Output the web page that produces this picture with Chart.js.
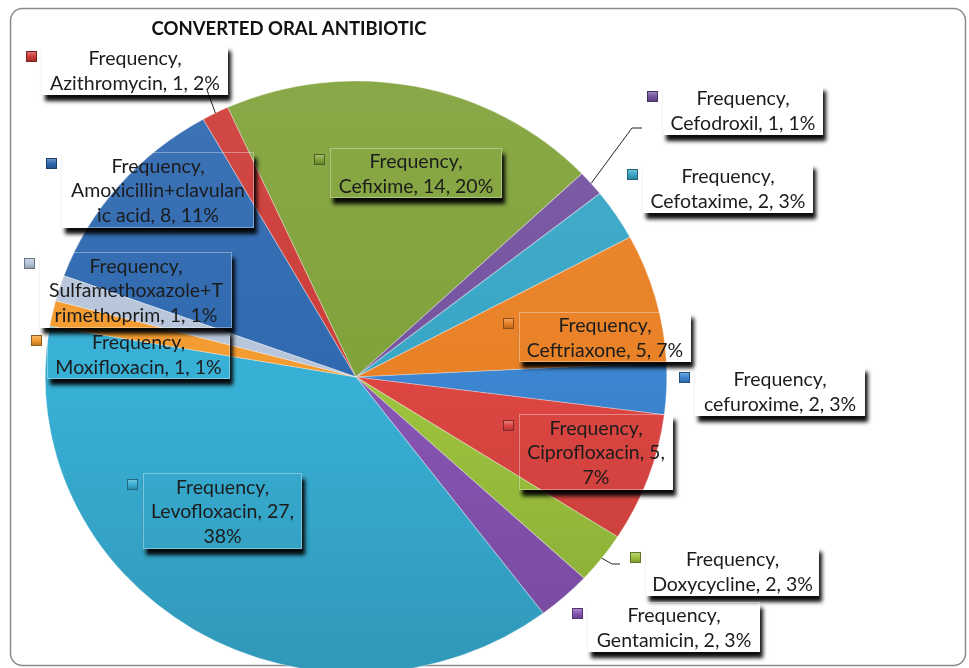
<!DOCTYPE html>
<html>
<head>
<meta charset="utf-8">
<script src="https://cdn.jsdelivr.net/npm/chart.js@4.4.1/dist/chart.umd.min.js"></script>
<style>
  body { margin: 0; background: #fff; overflow: hidden; }
  canvas { display: block; }
</style>
</head>
<body>
<canvas id="pieChart" width="969" height="668"></canvas>
<script>
// DATA

const chartTitle = 'CONVERTED ORAL ANTIBIOTIC';
const seriesName = 'Frequency';
const drugs = ['Amoxicillin+clavulanic acid', 'Azithromycin', 'Cefixime', 'Cefodroxil', 'Cefotaxime',
    'Ceftriaxone', 'cefuroxime', 'Ciprofloxacin', 'Doxycycline', 'Gentamicin', 'Levofloxacin',
    'Moxifloxacin', 'Sulfamethoxazole+Trimethoprim'];
const frequency = [8, 1, 14, 1, 2, 5, 2, 5, 2, 2, 27, 1, 1];
const percentText = ['11%', '2%', '20%', '1%', '3%', '7%', '3%', '7%', '3%', '3%', '38%', '1%', '1%'];

// STYLE / LAYOUT

const sliceColors = ['#3069B0', '#CC3C38', '#80A23A', '#7553A0', '#38A6C6', '#E98126', '#3C85D0',
    '#DD4642', '#9DC43E', '#8855B5', '#38B0D6', '#F39B2F', '#B7C6DA'];

// label boxes: x, y, w, h (Excel moved these by hand)
const labelBoxes = [
    [62, 152, 192, 76], [42, 45, 186, 50], [330, 148, 172, 50], [663, 85, 160, 50],
    [643, 163, 170, 50], [519, 312, 172, 50], [695, 366, 170, 50], [519, 414, 154, 76],
    [646, 546, 173, 50], [588, 602, 172, 50], [143, 473, 159, 76], [47, 329, 183, 50],
    [40, 252, 192, 76]
];
// where the wrapped text breaks after "Frequency," (0 = no extra break)
const breakAt = [20, 0, 0, 0, 0, 0, 0, 17, 0, 0, 17, 0, 18];
// leader line bends, from slice edge to label
const leaders = { 1: [[207, 90]], 3: [[632, 128], [642, 128]], 8: [[612, 564], [620, 564]] };

const stretchX = 1.05;
const labelFont = '19.5px Lato, "Open Sans", sans-serif';

function shade(hex, amt) {
    const n = parseInt(hex.slice(1), 16);
    let r = (n >> 16) & 255, g = (n >> 8) & 255, b = n & 255;
    const f = c => Math.max(0, Math.min(255, Math.round(amt > 0 ? c + (255 - c) * amt : c * (1 + amt))));
    return 'rgb(' + f(r) + ',' + f(g) + ',' + f(b) + ')';
}

function sliceFill(context) {
    const base = sliceColors[context.dataIndex];
    const ctx = context.chart.ctx;
    const grad = ctx.createLinearGradient(0, 80, 0, 680);
    grad.addColorStop(0, shade(base, 0.07));
    grad.addColorStop(0.5, base);
    grad.addColorStop(1, shade(base, -0.14));
    return grad;
}

function labelLines(i) {
    const rest = drugs[i] + ', ' + frequency[i] + ', ' + percentText[i];
    const lines = [seriesName + ','];
    if (breakAt[i] > 0) {
        lines.push(rest.slice(0, breakAt[i]).trim());
        lines.push(rest.slice(breakAt[i]).trim());
    } else {
        lines.push(rest);
    }
    return lines;
}

// PLUGINS

const framePlugin = {
    id: 'frame',
    beforeDraw(chart) {
        const ctx = chart.ctx;
        ctx.save();
        ctx.fillStyle = '#fff';
        ctx.fillRect(0, 0, chart.width, chart.height);
        ctx.strokeStyle = '#8a8a8a';
        ctx.lineWidth = 1.5;
        ctx.beginPath();
        ctx.roundRect(10.5, 8.5, 955, 657, 12);
        ctx.stroke();
        ctx.restore();
    }
};

const stretchPlugin = {
    id: 'stretch',
    beforeDatasetsDraw(chart) {
        const arc = chart.getDatasetMeta(0).data[0];
        const ctx = chart.ctx;
        ctx.save();
        ctx.translate(arc.x, arc.y);
        ctx.scale(stretchX, 1);
        ctx.translate(-arc.x, -arc.y);
    },
    afterDatasetsDraw(chart) {
        chart.ctx.restore();
    }
};

const labelPlugin = {
    id: 'callouts',
    afterDraw(chart) {
        const ctx = chart.ctx;
        const meta = chart.getDatasetMeta(0);
        ctx.save();

        // title
        ctx.fillStyle = '#111';
        ctx.font = 'bold 18.5px Lato, "Open Sans", sans-serif';
        ctx.textAlign = 'center';
        ctx.textBaseline = 'middle';
        ctx.fillText(chartTitle, 289, 29);

        // leader lines
        ctx.strokeStyle = '#222';
        ctx.lineWidth = 1;
        Object.keys(leaders).forEach(k => {
            const arc = meta.data[k];
            const mid = (arc.startAngle + arc.endAngle) / 2;
            const r = arc.outerRadius;
            ctx.beginPath();
            ctx.moveTo(arc.x + Math.cos(mid) * r * stretchX, arc.y + Math.sin(mid) * r);
            leaders[k].forEach(p => ctx.lineTo(p[0], p[1]));
            ctx.stroke();
        });

        labelBoxes.forEach((b, i) => {
            const [x, y, w, h] = b;

            // shadow only (box itself is see-through)
            ctx.save();
            ctx.beginPath();
            ctx.rect(0, 0, chart.width, chart.height);
            ctx.rect(x, y, w, h);
            ctx.clip('evenodd');
            ctx.shadowColor = 'rgba(0,0,0,0.95)';
            ctx.shadowBlur = 4;
            ctx.shadowOffsetX = 3;
            ctx.shadowOffsetY = 6;
            ctx.fillStyle = '#000';
            ctx.fillRect(x, y, w, h);
            ctx.restore();

            ctx.strokeStyle = 'rgba(255,255,255,0.35)';
            ctx.lineWidth = 1;
            ctx.strokeRect(x + 0.5, y + 0.5, w - 1, h - 1);

            // legend key
            const kx = x - 16, ky = y + 6;
            const g = ctx.createLinearGradient(0, ky, 0, ky + 11);
            g.addColorStop(0, shade(sliceColors[i], 0.35));
            g.addColorStop(0.5, sliceColors[i]);
            g.addColorStop(1, shade(sliceColors[i], -0.25));
            ctx.fillStyle = g;
            ctx.fillRect(kx, ky, 11, 11);
            ctx.strokeStyle = shade(sliceColors[i], -0.4);
            ctx.strokeRect(kx + 0.5, ky + 0.5, 10, 10);

            // text
            const lines = labelLines(i);
            ctx.fillStyle = '#1c1c1c';
            ctx.font = labelFont;
            ctx.textAlign = 'center';
            ctx.textBaseline = 'middle';
            const lh = 24.5;
            const cy = y + h / 2 + 1;
            lines.forEach((t, j) => {
                ctx.fillText(t, x + w / 2, cy + (j - (lines.length - 1) / 2) * lh);
            });
        });

        ctx.restore();
    }
};

// CHART

const ctx = document.getElementById('pieChart').getContext('2d');

new Chart(ctx, {
    type: 'pie',
    data: {
        labels: drugs,
        datasets: [{
            label: seriesName,
            data: frequency,
            backgroundColor: sliceFill,
            borderColor: 'rgba(255,255,255,0.3)',
            borderWidth: 1
        }]
    },
    options: {
        responsive: false,
        animation: false,
        events: [],
        rotation: -70,
        radius: 296,
        layout: { padding: { left: 0, right: 257, top: 86, bottom: 0 } },
        plugins: {
            legend: { display: false },
            tooltip: { enabled: false }
        }
    },
    plugins: [framePlugin, stretchPlugin, labelPlugin]
});
</script>
</body>
</html>
